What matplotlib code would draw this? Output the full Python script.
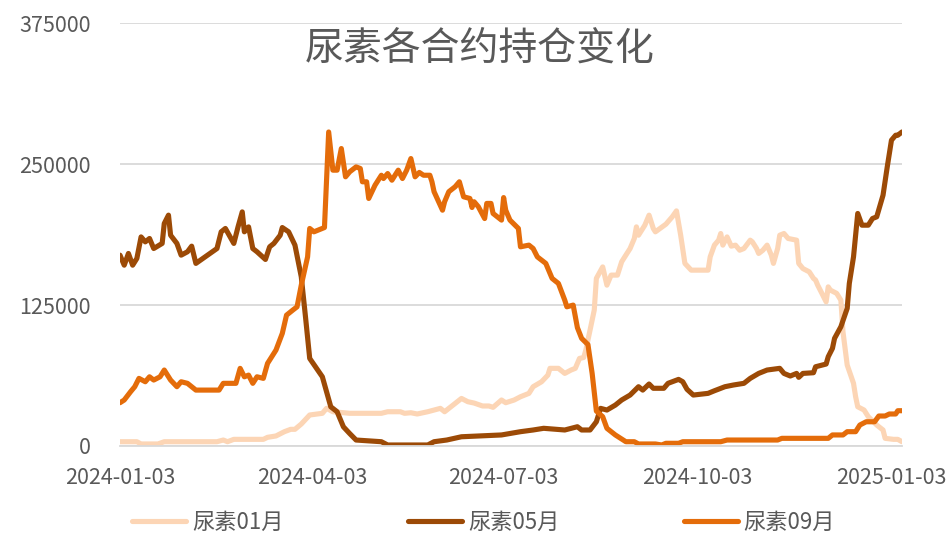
import matplotlib
matplotlib.use("Agg")
import matplotlib.pyplot as plt
import matplotlib.dates as mdates
import matplotlib.ticker as mticker
import pandas as pd

plt.rcParams["font.family"] = ["Noto Sans CJK SC", "DejaVu Sans"]

# 持仓数据（交易日，以 2024-01-03 起算的天数）
start = pd.Timestamp("2024-01-03")

day_01 = [0, 8, 10, 18, 21, 46, 49, 51, 54, 68, 70, 74, 78, 81, 83, 86, 90, 96, 98, 101,
          109, 124, 127, 133, 135, 138, 141, 146, 152, 154, 158, 162, 165, 168, 172, 175,
          177, 181, 183, 187, 190, 194, 196, 200, 203, 204, 208, 211, 214, 216, 218, 220,
          221, 223, 225, 226, 229, 231, 233, 236, 238, 239, 242, 244, 245, 246, 249, 251,
          253, 254, 259, 262, 264, 266, 268, 271, 279, 280, 282, 284, 285, 286, 288, 290,
          292, 294, 296, 299, 300, 302, 303, 305, 307, 309, 310, 312, 313, 315, 317, 321,
          322, 324, 327, 329, 330, 331, 333, 335, 336, 337, 340, 342, 343, 345, 348, 349,
          350, 353, 355, 359, 362, 363, 367, 369, 371]
oi_01 = [3800, 3800, 1800, 1800, 3800, 3800, 5300, 3800, 5900, 5900, 7700, 8900, 12700,
         14800, 14800, 19500, 27500, 29000, 33400, 30400, 29000, 29000, 30400, 30400, 29000,
         29500, 28400, 30400, 33400, 30400, 36300, 42200, 39300, 38100, 35500, 35500, 34300,
         40800, 38400, 40800, 43700, 46700, 52600, 57000, 62900, 68900, 68900, 64400, 67400,
         68900, 77700, 78500, 85100, 102800, 120600, 148700, 158900, 142700, 151600, 151600,
         163400, 166400, 175200, 184100, 194400, 187000, 195900, 204800, 193000, 190000,
         196800, 203300, 208600, 187000, 162000, 156000, 156000, 167800, 178200, 182600,
         188500, 178200, 185500, 177300, 178200, 173700, 175200, 182600, 181100, 175200,
         170800, 173700, 178200, 169300, 162000, 175200, 187000, 188500, 184100, 182600,
         162000, 157400, 154500, 148700, 147200, 142700, 135400, 127900, 141200, 138300,
         135400, 129400, 101300, 71800, 55600, 43700, 34800, 31900, 26000, 18600, 14200,
         6800, 5900, 5900, 3800]

day_05 = [0, 2, 4, 6, 8, 10, 12, 14, 16, 20, 21, 23, 24, 27, 29, 32, 34, 36, 46, 48, 50,
          54, 56, 58, 59, 61, 63, 65, 69, 71, 73, 76, 77, 80, 83, 86, 88, 90, 96, 100, 103,
          106, 109, 112, 124, 127, 146, 149, 155, 162, 181, 190, 196, 201, 211, 217, 219,
          223, 226, 228, 231, 235, 238, 242, 246, 248, 251, 253, 258, 260, 265, 267, 269,
          272, 279, 282, 287, 291, 296, 299, 303, 307, 313, 315, 318, 321, 322, 324, 329,
          330, 335, 336, 338, 339, 342, 345, 346, 348, 350, 352, 355, 357, 359, 362, 364,
          366, 368, 369, 371]
oi_05 = [169300, 160400, 170800, 160400, 166400, 185500, 181100, 184100, 175200, 179700,
         197400, 204800, 187000, 179700, 169300, 172300, 177300, 162000, 175200, 190000,
         193000, 179700, 194400, 207700, 190000, 194400, 175200, 172300, 165500, 176700,
         179700, 187000, 193800, 190000, 178200, 150100, 114600, 77700, 61400, 34800, 30400,
         17000, 11000, 5300, 3800, 900, 900, 3800, 5300, 8200, 9800, 12700, 14200, 15700,
         14200, 17100, 14200, 14200, 21500, 33400, 31900, 36300, 40800, 45200, 52600, 49600,
         55000, 51200, 51200, 55600, 59100, 57000, 50300, 45200, 46700, 49000, 52600, 54100,
         55600, 60000, 64400, 67400, 68900, 64400, 62100, 64400, 60900, 64400, 65000, 70300,
         72700, 79200, 86600, 95500, 105800, 122100, 144200, 167800, 206300, 195900, 195900,
         201800, 203300, 222500, 247600, 271300, 275700, 275700, 278600]

day_09 = [0, 2, 5, 7, 9, 12, 14, 16, 19, 21, 24, 27, 29, 32, 36, 47, 49, 55, 57, 59, 61,
          63, 65, 68, 70, 74, 77, 79, 82, 84, 86, 89, 90, 92, 97, 99, 101, 103, 105, 107,
          109, 112, 114, 115, 117, 118, 121, 124, 125, 127, 129, 132, 134, 136, 138, 140,
          142, 144, 147, 148, 149, 153, 154, 156, 159, 161, 163, 166, 167, 168, 170, 173,
          174, 176, 177, 181, 182, 183, 185, 189, 190, 194, 196, 198, 202, 205, 208, 211,
          212, 215, 217, 219, 222, 224, 226, 229, 231, 235, 240, 244, 246, 254, 257, 259,
          265, 267, 285, 288, 312, 314, 336, 338, 343, 345, 349, 351, 354, 358, 360, 363,
          365, 368, 369, 371]
oi_09 = [38400, 40800, 48100, 52600, 60000, 57000, 61400, 58500, 61400, 67400, 58500,
         52600, 57000, 55600, 49600, 49600, 55600, 55600, 68900, 61400, 62900, 55600, 61400,
         60000, 73300, 85100, 99900, 116100, 120600, 123500, 142700, 167800, 193000, 190000,
         193800, 278600, 244700, 244700, 263900, 238800, 243300, 247600, 246200, 234400,
         234400, 219600, 231400, 240200, 237300, 241700, 235800, 244700, 237300, 244700,
         255000, 238800, 242700, 240200, 240200, 234400, 225600, 209200, 216700, 225600,
         230000, 234400, 221100, 219600, 211600, 216700, 212300, 201800, 215200, 215200,
         206300, 200400, 220400, 209200, 200400, 193000, 176700, 178200, 175200, 167800,
         162000, 148700, 144200, 129400, 123500, 125000, 105000, 95500, 90000, 64400, 31000,
         26000, 15700, 9800, 3800, 3800, 1800, 1800, 900, 2400, 2400, 3800, 3800, 5300, 5300,
         6800, 6800, 9800, 9800, 12700, 12700, 18600, 21500, 21500, 26600, 26600, 28400,
         28400, 31300, 31300]

series = [
    ("尿素01月", day_01, oi_01, "#FCD5B5"),
    ("尿素05月", day_05, oi_05, "#9C4A06"),
    ("尿素09月", day_09, oi_09, "#E46C0A"),
]

fig = plt.figure(figsize=(9.48, 5.36), dpi=100)
ax = fig.add_axes([120 / 948, 1 - 446 / 536, 782 / 948, (446 - 23.3) / 536])

for name, days, vals, color in series:
    dates = start + pd.to_timedelta(days, unit="D")
    ax.plot(dates, vals, color=color, lw=3.7, label=name,
            solid_joinstyle="round", solid_capstyle="round")

end = start + pd.Timedelta(days=371)
ax.set_xlim(start, end)
ax.set_ylim(0, 375000)
ax.yaxis.set_major_locator(mticker.MultipleLocator(125000))
ax.xaxis.set_major_locator(mdates.MonthLocator(bymonth=[1, 4, 7, 10], bymonthday=3))
ax.xaxis.set_major_formatter(mdates.DateFormatter("%Y-%m-%d"))

ax.grid(axis="y", color="#D9D9D9", lw=1.3)
ax.set_axisbelow(True)
for s in ["top", "right", "left"]:
    ax.spines[s].set_visible(False)
ax.spines["bottom"].set_color("#D9D9D9")
ax.spines["bottom"].set_linewidth(1.3)
ax.tick_params(length=0, labelsize=15.5, colors="#595959")
ax.tick_params(axis="x", pad=15)
ax.tick_params(axis="y", pad=21)

fig.text(0.506, 0.91, "尿素各合约持仓变化", ha="center", va="center",
         fontsize=28, color="#595959")

fig.legend(loc="center", bbox_to_anchor=(0.510, 0.026), ncol=3, frameon=False,
           fontsize=16, handlelength=2.45, handletextpad=0.25, columnspacing=5.6,
           labelcolor="#595959")

fig.savefig("out.png", dpi=100)
